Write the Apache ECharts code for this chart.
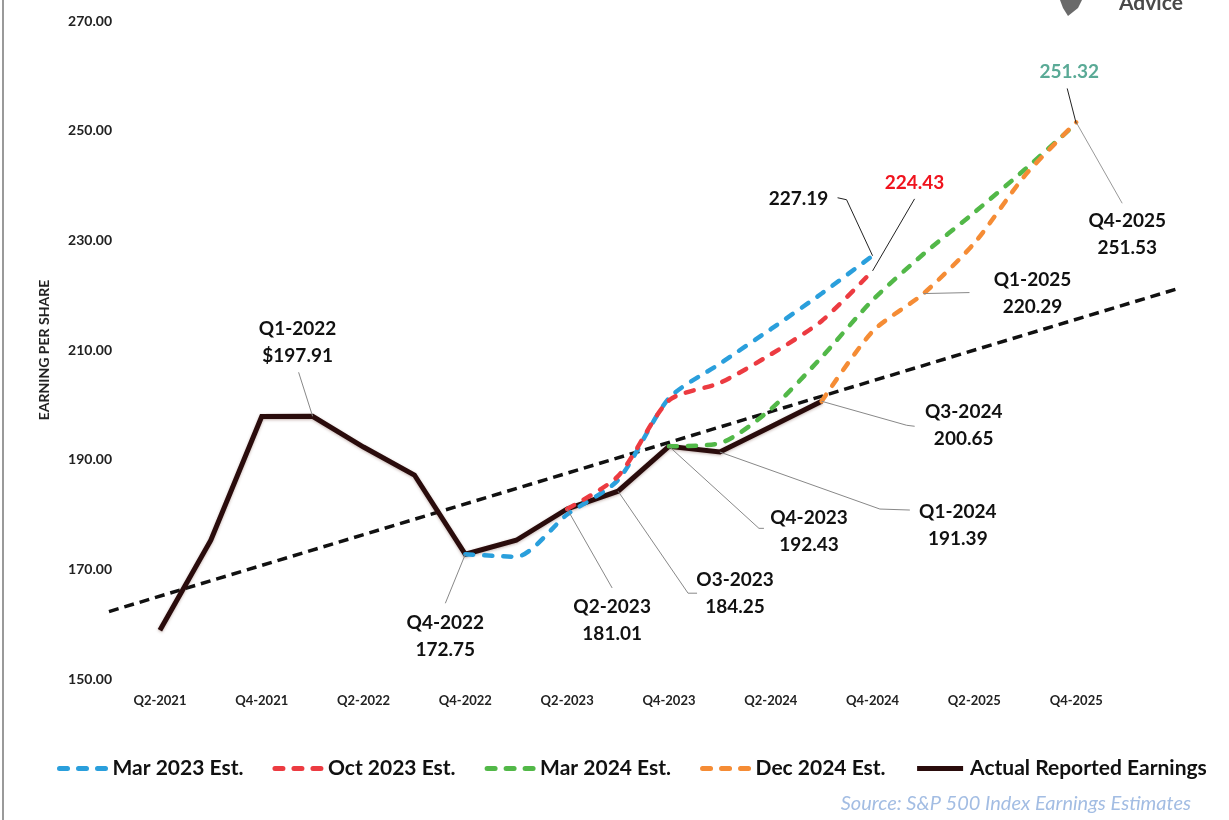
<!DOCTYPE html>
<html>
<head>
    <meta charset="utf-8">
    <title>S&P 500 Earnings Estimates</title>
    <script src="https://cdn.jsdelivr.net/npm/echarts@6/dist/echarts.min.js"></script>
    <style>
        html, body { margin: 0; padding: 0; background: #fff; }
    </style>
</head>
<body>
<div id="chart" style="width: 1229px; height: 820px;"></div>
<script>
    // quarters on the x axis (first and last only carry the trend line)
    var categories = ['Q1-2021', 'Q2-2021', 'Q3-2021', 'Q4-2021', 'Q1-2022', 'Q2-2022', 'Q3-2022', 'Q4-2022',
        'Q1-2023', 'Q2-2023', 'Q3-2023', 'Q4-2023', 'Q1-2024', 'Q2-2024', 'Q3-2024', 'Q4-2024',
        'Q1-2025', 'Q2-2025', 'Q3-2025', 'Q4-2025', 'Q1-2026', 'Q2-2026'];
    var shownLabels = ['Q2-2021', 'Q4-2021', 'Q2-2022', 'Q4-2022', 'Q2-2023', 'Q4-2023', 'Q2-2024', 'Q4-2024', 'Q2-2025', 'Q4-2025'];
    var yTicks = [150, 170, 190, 210, 230, 250, 270];

    var actual  = [null, 158.9, 175.3, 197.87, 197.91, 192.3, 187.2, 172.75, 175.3, 181.01, 184.25, 192.43, 191.39, 196.0, 200.65, null, null, null, null, null, null, null];
    var mar2023 = [null, null, null, null, null, null, null, 172.75, 172.3, 180.0, 186.3, 201.2, 207.5, 213.8, 220.3, 227.19, null, null, null, null, null, null];
    var oct2023 = [null, null, null, null, null, null, null, null, null, 181.01, 187.0, 200.8, 204.0, 209.2, 215.3, 224.43, null, null, null, null, null, null];
    var mar2024 = [null, null, null, null, null, null, null, null, null, null, null, 192.43, 193.0, 199.2, 208.7, 219.1, 227.5, 235.1, 243.0, 251.32, null, null];
    var dec2024 = [null, null, null, null, null, null, null, null, null, null, null, null, null, null, 200.65, 213.4, 220.29, 229.5, 241.9, 251.53, null, null];
    var trend   = [162.3, null, null, null, null, null, null, null, null, null, null, null, null, null, null, null, null, null, null, null, null, 221.2];

    // call-outs
    var annCats   = ['Q1-2022', 'Q4-2022', 'Q2-2023', 'Q3-2023', 'Q4-2023', 'Q1-2024', 'Q3-2024', 'Q1-2025', 'Q4-2025', 'Q4-2025', 'Q4-2024', 'Q4-2024'];
    var annValues = [197.91, 172.75, 181.01, 184.25, 192.43, 191.39, 200.65, 220.29, 251.53, 251.32, 227.19, 224.43];
    var annTexts  = ['Q1-2022\n$197.91', 'Q4-2022\n172.75', 'Q2-2023\n181.01', 'O3-2023\n184.25', 'Q4-2023\n192.43',
        'Q1-2024\n191.39', 'Q3-2024\n200.65', 'Q1-2025\n220.29', 'Q4-2025\n251.53', '251.32', '227.19', '224.43'];

    // call-out layout: text centre offset, leader bend points (px, relative to the point), colours
    var annTextOffsets = [[-15, -74], [-20, 82], [45, 111], [117, 102], [140, 85], [238, 73], [142, 24], [109, 0], [51, 112], [-7, -52], [-74, -57], [42, -88]];
    var annLeaders = [
        [[-14, -44]], [[-20, 49]], [[45, 79]], [[70, 102], [79, 102]], [[90, 82], [95, 82]],
        [[160, 57], [190, 58]], [[85, 24], [93, 25]], [[46, -1]], [[46, 81]],
        [[-9, -35]], [[-26, -56], [-35, -58]], [[42, -72]]
    ];
    var annColors = ['#111', '#111', '#111', '#111', '#111', '#111', '#111', '#111', '#111', '#5aaa96', '#111', '#f0141e'];
    var annLineColors = ['#888', '#888', '#888', '#888', '#888', '#888', '#888', '#888', '#999', '#222', '#222', '#222'];

    var font = 'Lato, "Open Sans", sans-serif';
    var myChart = echarts.init(document.getElementById('chart'));

    function dashed(name, data, color) {
        return {
            name: name,
            type: 'line',
            data: data,
            symbol: 'none',
            smooth: 0.25,
            lineStyle: { color: color, width: 4.5, type: [8, 11], cap: 'round' },
            itemStyle: { color: color }
        };
    }

    var annData = annCats.map(function (c, i) { return [c, annValues[i]]; });

    function renderCallout(params, api) {
        var i = params.dataIndex;
        var p = api.coord([api.value(0), api.value(1)]);
        var pts = [p].concat(annLeaders[i].map(function (d) { return [p[0] + d[0], p[1] + d[1]]; }));
        var t = annTextOffsets[i];
        return {
            type: 'group',
            children: [
                {
                    type: 'polyline',
                    shape: { points: pts },
                    style: { stroke: annLineColors[i], lineWidth: 1, fill: null }
                },
                {
                    type: 'text',
                    style: {
                        text: annTexts[i],
                        x: p[0] + t[0],
                        y: p[1] + t[1],
                        align: 'center',
                        verticalAlign: 'middle',
                        fontFamily: 'Lato',
                        fontWeight: 'bold',
                        fontSize: 19,
                        lineHeight: 27,
                        fill: annColors[i]
                    }
                }
            ]
        };
    }

    var option = {
        backgroundColor: '#fff',
        animation: false,
        grid: { left: 109, right: 51, top: 21, bottom: 141 },
        xAxis: {
            type: 'category',
            data: categories,
            boundaryGap: false,
            axisLine: { show: false },
            axisTick: { show: false },
            axisLabel: {
                interval: function (index, value) { return shownLabels.indexOf(value) >= 0; },
                margin: 15,
                fontFamily: font,
                fontWeight: 'bold',
                fontSize: 13,
                color: '#222'
            },
            splitLine: { show: false }
        },
        yAxis: {
            type: 'value',
            min: yTicks[0],
            max: yTicks[yTicks.length - 1],
            interval: 20,
            name: 'EARNING PER SHARE',
            nameLocation: 'middle',
            nameRotate: 90,
            nameGap: 58,
            nameTextStyle: { fontFamily: font, fontWeight: 'bold', fontSize: 14, color: '#222' },
            axisLine: { show: false },
            axisTick: { show: false },
            splitLine: { show: false },
            axisLabel: {
                margin: -3,
                fontFamily: font,
                fontWeight: 'bold',
                fontSize: 14,
                color: '#222',
                formatter: function (v) { return v.toFixed(2); }
            }
        },
        legend: {
            bottom: 36,
            left: 52,
            itemWidth: 46,
            itemHeight: 12,
            itemGap: 29,
            data: ['Mar 2023 Est.', 'Oct 2023 Est.', 'Mar 2024 Est.', 'Dec 2024 Est.', 'Actual Reported Earnings'],
            itemStyle: { opacity: 0 },
            lineStyle: { width: 5 },
            textStyle: { fontFamily: font, fontWeight: 'bold', fontSize: 21, color: '#111', padding: [0, 0, 0, 2] }
        },
        series: [
            {
                name: 'Trend',
                type: 'line',
                data: trend,
                connectNulls: true,
                symbol: 'none',
                lineStyle: { color: '#111', width: 3.5, type: [10, 6] }
            },
            {
                name: 'Actual Reported Earnings',
                type: 'line',
                data: actual,
                symbol: 'none',
                lineStyle: { color: '#2a0c0c', width: 5, join: 'miter', shadowColor: 'rgba(90,40,30,0.35)', shadowBlur: 3, shadowOffsetY: 1 },
                itemStyle: { color: '#2a0c0c' }
            },
            dashed('Mar 2023 Est.', mar2023, '#2a9fdc'),
            dashed('Oct 2023 Est.', oct2023, '#ec3b41'),
            dashed('Mar 2024 Est.', mar2024, '#52b848'),
            dashed('Dec 2024 Est.', dec2024, '#f58c35'),
            {
                name: 'Callouts',
                type: 'custom',
                data: annData,
                z: 5,
                clip: false,
                renderItem: renderCallout
            }
        ],
        graphic: [
            { type: 'rect', shape: { x: 2, y: 0, width: 2, height: 820 }, style: { fill: '#9a9a9a' } },
            {
                type: 'text', left: 1119, top: -7,
                style: { text: 'Advice', fill: '#4a4a4a', font: 'bold 21px Lato' }
            },
            {
                type: 'polygon',
                shape: { points: [[1060, 0], [1082, 0], [1078, 8], [1068, 16], [1063, 8]] },
                style: { fill: '#6a6a6a' }
            },
            {
                type: 'text', right: 38, top: 794,
                style: { text: 'Source: S&P 500 Index Earnings Estimates', fill: '#a3bde3', font: 'italic 20px Lato' }
            }
        ]
    };

    myChart.setOption(option);
</script>
</body>
</html>
